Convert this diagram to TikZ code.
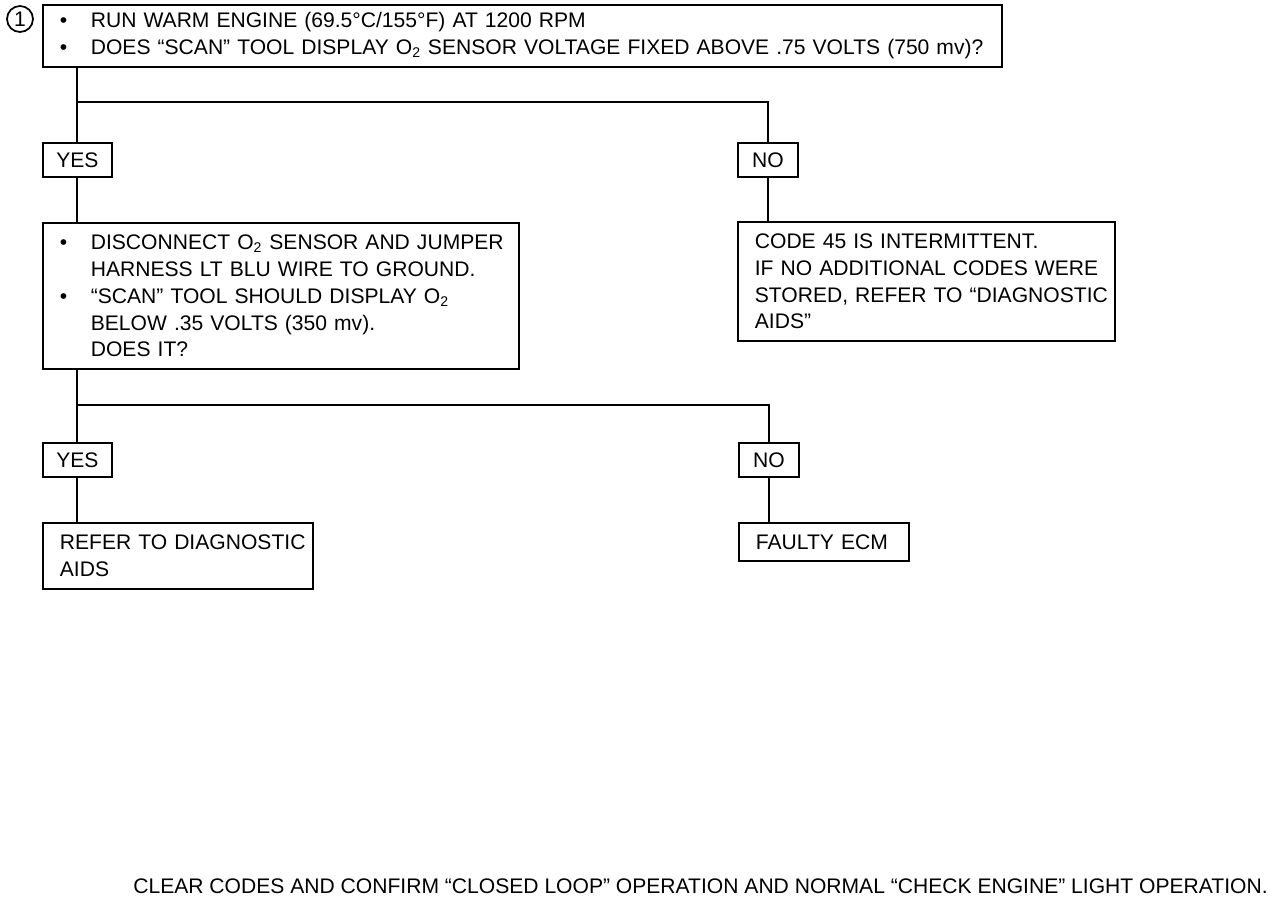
\documentclass[tikz,border=0pt]{standalone}
\usepackage{fontspec}
\setmainfont{Liberation Sans}
\usetikzlibrary{positioning}
\newcommand{\bul}{\makebox[0.62cm][l]{\textbullet}}
\newcommand{\ind}{\hspace*{0.62cm}}
\newcommand{\Otwo}{O\textsubscript{2}}
\tikzset{
  qbox/.style={draw,line width=1pt,anchor=north west,align=left,
    text width=#1,inner xsep=0.34cm,inner ysep=0pt,
    font=\fontsize{12}{15.3}\selectfont},
  ans/.style={draw,line width=1pt,anchor=north west,minimum width=#1,
    minimum height=0.69cm,inner sep=0pt,font=\fontsize{12}{15.3}\selectfont},
  link/.style={line width=1pt},
}

\begin{document}
\begin{tikzpicture}[x=0.02cm,y=-0.02cm]
  \useasboundingbox (0,0) rectangle (1280,898);
  \node[draw,circle,line width=1pt,minimum size=0.52cm,inner sep=0pt,font=\fontsize{12}{14}\selectfont] (num) at (20,19) {1};
  \node[qbox=18.5cm,minimum height=1.24cm] (q1) at (42,4)
    {\bul\mbox{RUN WARM ENGINE (69.5°C/155°F) AT 1200 RPM}\\
     \bul\mbox{DOES “SCAN” TOOL DISPLAY \Otwo{} SENSOR VOLTAGE FIXED ABOVE .75 VOLTS (750 mv)?}};
  \node[ans=1.38cm] (yes1) at (42,142) {YES};
  \node[ans=1.2cm] (no1) at (737,142) {NO};
  \node[qbox=8.84cm,minimum height=2.92cm] (q2) at (42,222)
    {\bul\mbox{DISCONNECT \Otwo{} SENSOR AND JUMPER}\\
     \ind\mbox{HARNESS LT BLU WIRE TO GROUND.}\\
     \bul\mbox{“SCAN” TOOL SHOULD DISPLAY \Otwo}\\
     \ind\mbox{BELOW .35 VOLTS (350 mv).}\\
     \ind\mbox{DOES IT?}};
  \node[qbox=6.86cm,minimum height=2.38cm] (c45) at (737,221)
    {\mbox{CODE 45 IS INTERMITTENT.}\\
     \mbox{IF NO ADDITIONAL CODES WERE}\\
     \mbox{STORED, REFER TO “DIAGNOSTIC}\\
     \mbox{AIDS”}};
  \node[ans=1.38cm] (yes2) at (42,442) {YES};
  \node[ans=1.2cm] (no2) at (738,442) {NO};
  \node[qbox=4.72cm,minimum height=1.32cm] (r1) at (42,522)
    {\mbox{REFER TO DIAGNOSTIC}\\\mbox{AIDS}};
  \node[qbox=2.72cm,minimum height=0.76cm] (r2) at (738,522) {\mbox{FAULTY ECM}};
  \node[anchor=west,inner sep=0pt,font=\fontsize{12}{15.3}\selectfont] (foot) at (133,886)
    {CLEAR CODES AND CONFIRM “CLOSED LOOP” OPERATION AND NORMAL “CHECK ENGINE” LIGHT OPERATION.};

  \coordinate (split1) at (0,102);
  \coordinate (split2) at (0,405);
  \draw[link] (yes1.north |- q1.south) -- (yes1.north);
  \draw[link] (yes1.north |- split1) -| (no1.north);
  \draw[link] (yes1.south) -- (yes1.south |- q2.north);
  \draw[link] (no1.south) -- (no1.south |- c45.north);
  \draw[link] (yes2.north |- q2.south) -- (yes2.north);
  \draw[link] (yes2.north |- split2) -| (no2.north);
  \draw[link] (yes2.south) -- (yes2.south |- r1.north);
  \draw[link] (no2.south) -- (no2.south |- r2.north);
\end{tikzpicture}
\end{document}
